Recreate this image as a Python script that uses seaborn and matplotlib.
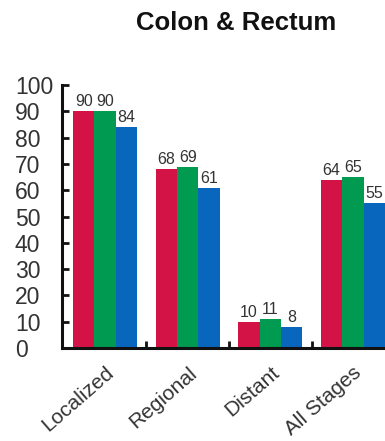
import matplotlib
matplotlib.use("Agg")
import matplotlib.pyplot as plt
import seaborn as sns
import pandas as pd

stages = ["Localized", "Regional", "Distant", "All Stages"]
series_names = ["s1", "s2", "s3"]
s1 = [90, 68, 10, 64]
s2 = [90, 69, 11, 65]
s3 = [84, 61, 8, 55]
colors = ["#D31346", "#009A50", "#0866BD"]
yticks = list(range(0, 101, 10))

rows = []
for name, vals in zip(series_names, [s1, s2, s3]):
    for st, v in zip(stages, vals):
        rows.append({"stage": st, "series": name, "value": v})
df = pd.DataFrame(rows)

sns.set_theme(style="ticks")
plt.rcParams["font.family"] = ["Liberation Sans", "DejaVu Sans"]

fig = plt.figure(figsize=(3.85, 4.41), dpi=100)
ax = fig.add_axes([0.161, 0.2109, 0.839, 0.596])

sns.barplot(data=df, x="stage", y="value", hue="series", order=stages,
            hue_order=series_names, palette=colors, width=0.78,
            saturation=1, linewidth=0, legend=False, ax=ax)

for cont in ax.containers:
    ax.bar_label(cont, padding=1.5, fontsize=11.5, color="#333333")

ax.set_xlim(-0.523, 3.39)
ax.set_ylim(0, 100)
ax.set_yticks(yticks)
ax.set_xlabel("")
ax.set_ylabel("")

for side in ["top", "right"]:
    ax.spines[side].set_visible(False)
for side in ["left", "bottom"]:
    ax.spines[side].set_linewidth(2.2)
    ax.spines[side].set_color("#111111")
    ax.spines[side].set_zorder(5)

# y labels flush left in a column beside the axis
ax.tick_params(axis="y", direction="in", length=5, width=2, color="#111111",
               labelsize=16.5, labelcolor="#333333", pad=34)
for lab in ax.get_yticklabels():
    lab.set_ha("left")

ax.set_xticks([0.5, 1.5, 2.5], minor=True)
ax.tick_params(axis="x", which="minor", direction="in", length=5, width=2,
               color="#111111")
ax.tick_params(axis="x", which="major", length=0, labelsize=15,
               labelcolor="#333333", pad=11)
for lab in ax.get_xticklabels():
    lab.set_rotation(41)
    lab.set_ha("right")
    lab.set_va("top")
    lab.set_rotation_mode("anchor")

fig.text(0.613, 0.947, "Colon & Rectum", ha="center", va="center",
         fontsize=18.5, fontweight="bold", color="#111111")

fig.savefig("out.png", dpi=100)
